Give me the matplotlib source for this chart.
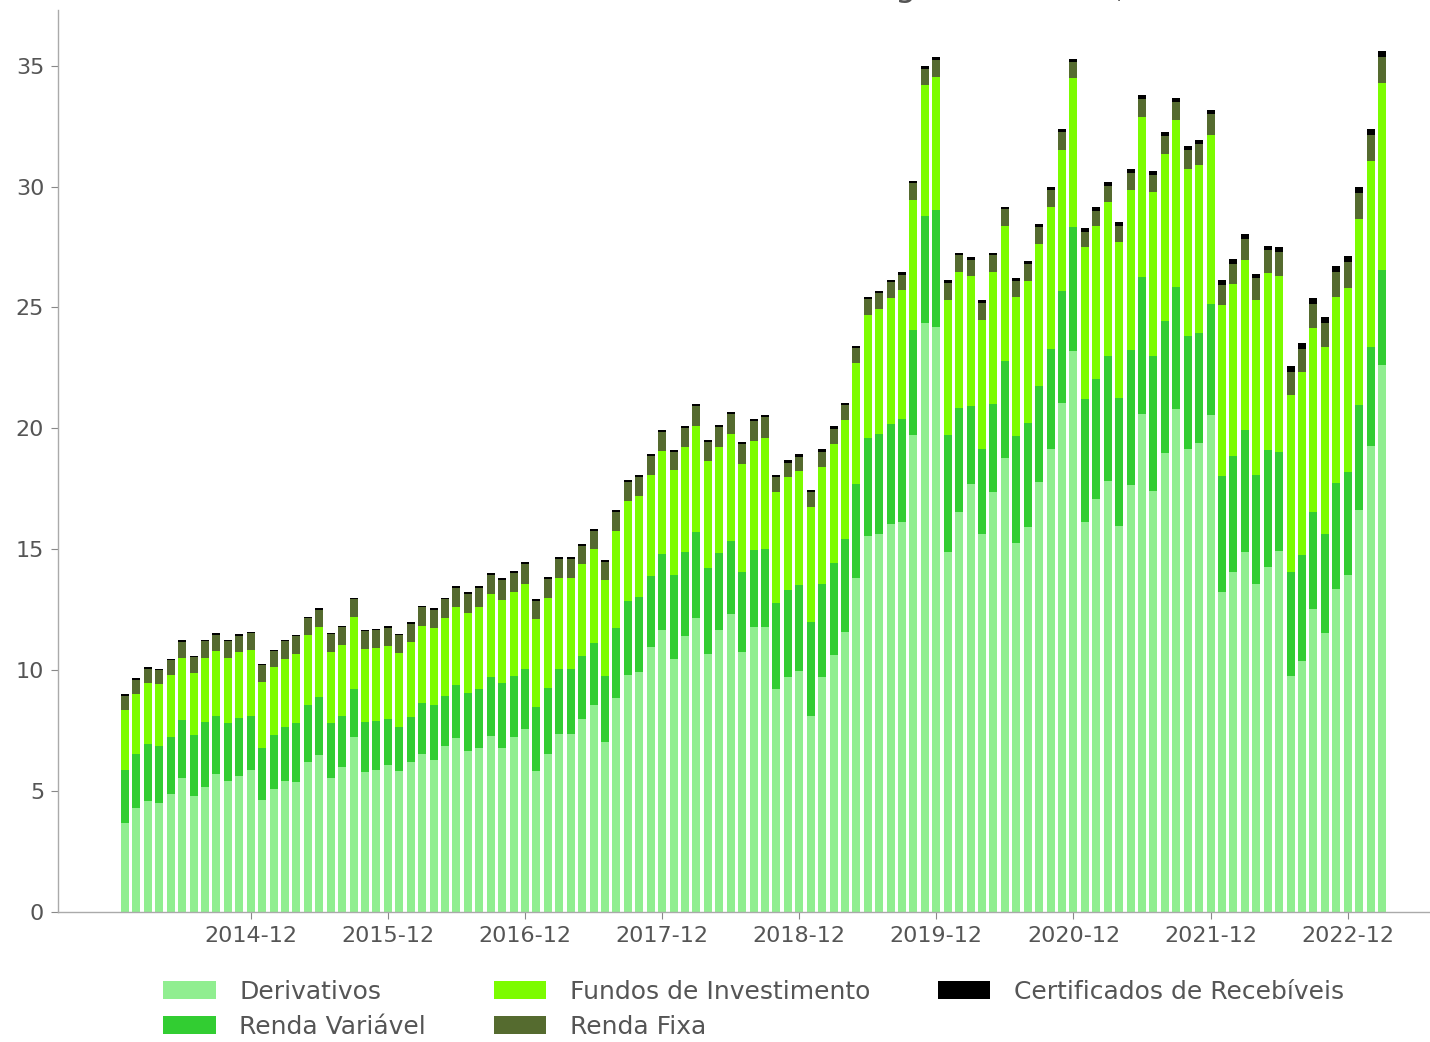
import matplotlib.pyplot as plt
import numpy as np
import pandas as pd

plt.rcParams["font.family"] = "DejaVu Sans"

# monthly categories, 2014-01 .. 2023-03
months = [str(p) for p in pd.period_range("2014-01", "2023-03", freq="M")]

derivativos = [3.66, 4.31, 4.60, 4.52, 4.88, 5.52, 4.79, 5.18, 5.69, 5.40, 5.61, 5.88,
               4.64, 5.07, 5.40, 5.37, 6.21, 6.50, 5.52, 5.98, 7.22, 5.80, 5.87, 6.07,
               5.83, 6.21, 6.53, 6.28, 6.86, 7.19, 6.64, 6.79, 7.29, 6.80, 7.22, 7.56,
               5.84, 6.53, 7.38, 7.38, 8.00, 8.55, 7.04, 8.83, 9.79, 9.93, 10.94, 11.68,
               10.47, 11.40, 12.15, 10.66, 11.64, 12.31, 10.77, 11.79, 11.79, 9.21, 9.70, 9.97,
               8.09, 9.70, 10.63, 11.58, 13.82, 15.55, 15.64, 16.03, 16.14, 19.72, 24.37, 24.19,
               14.89, 16.54, 17.69, 15.65, 17.37, 18.77, 15.26, 15.92, 17.78, 19.13, 21.05, 23.19,
               16.13, 17.07, 17.82, 15.95, 17.64, 20.60, 17.42, 18.99, 20.80, 19.13, 19.40, 20.56,
               13.24, 14.05, 14.90, 13.55, 14.26, 14.93, 9.77, 10.38, 12.53, 11.54, 13.36, 13.94,
               16.63, 19.28, 22.62]

renda_variavel = [2.21, 2.21, 2.33, 2.35, 2.35, 2.41, 2.51, 2.67, 2.42, 2.42, 2.42, 2.24,
                  2.12, 2.26, 2.26, 2.44, 2.34, 2.38, 2.28, 2.12, 2.02, 2.06, 2.04, 1.92,
                  1.80, 1.86, 2.12, 2.27, 2.08, 2.18, 2.40, 2.42, 2.43, 2.66, 2.55, 2.47,
                  2.62, 2.75, 2.65, 2.65, 2.58, 2.59, 2.73, 2.93, 3.07, 3.10, 2.97, 3.14,
                  3.46, 3.49, 3.57, 3.57, 3.21, 3.03, 3.29, 3.17, 3.24, 3.55, 3.63, 3.56,
                  3.90, 3.88, 3.81, 3.85, 3.88, 4.03, 4.12, 4.14, 4.24, 4.33, 4.40, 4.83,
                  4.83, 4.31, 3.22, 3.50, 3.65, 4.01, 4.41, 4.32, 3.98, 4.16, 4.61, 5.13,
                  5.10, 4.98, 5.17, 5.32, 5.59, 5.66, 5.58, 5.46, 5.04, 4.68, 4.53, 4.57,
                  4.79, 4.81, 5.02, 4.51, 4.85, 4.09, 4.28, 4.38, 4.00, 4.08, 4.38, 4.25,
                  4.33, 4.08, 3.93]

fundos = [2.48, 2.49, 2.52, 2.54, 2.56, 2.59, 2.60, 2.67, 2.69, 2.70, 2.71, 2.71,
          2.76, 2.78, 2.82, 2.86, 2.90, 2.91, 2.94, 2.95, 2.96, 3.01, 3.00, 3.01,
          3.06, 3.10, 3.17, 3.19, 3.22, 3.23, 3.32, 3.39, 3.41, 3.45, 3.45, 3.55,
          3.65, 3.70, 3.78, 3.79, 3.83, 3.85, 3.96, 4.01, 4.15, 4.17, 4.17, 4.24,
          4.33, 4.34, 4.38, 4.42, 4.38, 4.44, 4.47, 4.50, 4.56, 4.61, 4.66, 4.71,
          4.76, 4.83, 4.92, 4.92, 5.01, 5.11, 5.17, 5.22, 5.33, 5.38, 5.42, 5.51,
          5.58, 5.62, 5.37, 5.35, 5.44, 5.57, 5.76, 5.85, 5.87, 5.86, 5.83, 6.16,
          6.26, 6.31, 6.38, 6.44, 6.63, 6.63, 6.78, 6.89, 6.90, 6.92, 6.98, 7.02,
          7.08, 7.10, 7.05, 7.26, 7.32, 7.29, 7.34, 7.56, 7.62, 7.74, 7.69, 7.62,
          7.69, 7.69, 7.72]

renda_fixa = [0.60, 0.60, 0.61, 0.60, 0.64, 0.66, 0.65, 0.67, 0.67, 0.67, 0.69, 0.70,
              0.68, 0.69, 0.71, 0.73, 0.70, 0.71, 0.74, 0.72, 0.73, 0.75, 0.74, 0.76,
              0.76, 0.75, 0.78, 0.76, 0.78, 0.81, 0.80, 0.81, 0.81, 0.83, 0.81, 0.82,
              0.77, 0.80, 0.79, 0.78, 0.74, 0.78, 0.74, 0.76, 0.76, 0.78, 0.79, 0.80,
              0.78, 0.79, 0.81, 0.80, 0.83, 0.81, 0.82, 0.83, 0.87, 0.62, 0.59, 0.58,
              0.60, 0.62, 0.62, 0.61, 0.61, 0.66, 0.67, 0.65, 0.65, 0.71, 0.69, 0.71,
              0.72, 0.68, 0.68, 0.70, 0.69, 0.70, 0.68, 0.70, 0.71, 0.70, 0.76, 0.68,
              0.62, 0.64, 0.65, 0.65, 0.70, 0.74, 0.71, 0.74, 0.74, 0.79, 0.83, 0.84,
              0.83, 0.85, 0.85, 0.88, 0.93, 0.97, 0.96, 0.96, 1.00, 1.00, 1.03, 1.06,
              1.08, 1.08, 1.08]

certificados = [0.05] * 18 + [0.06] * 18 + [0.08] * 21 + [0.10] * 16 \
    + [0.12] * 11 + [0.17] * 12 + [0.20] * 6 + [0.24] * 9

series = [
    ("Derivativos", derivativos, "#90EE90"),
    ("Renda Variável", renda_variavel, "#32CD32"),
    ("Fundos de Investimento", fundos, "#7CFC00"),
    ("Renda Fixa", renda_fixa, "#556B2F"),
    ("Certificados de Recebíveis", certificados, "#000000"),
]

fig = plt.figure(figsize=(14.3, 10.42), dpi=100)
ax = fig.add_axes([0.0406, 0.1248, 0.9594, 0.8656])

x = np.arange(len(months))
bottom = np.zeros(len(months))
for name, vals, color in series:
    ax.bar(x, vals, 0.7, bottom=bottom, color=color, label=name)
    bottom += np.array(vals)

dec = [i for i, m in enumerate(months) if m.endswith("-12")]
ax.set_xticks(dec)
ax.set_xticklabels([months[i] for i in dec])
ax.set_yticks(range(0, 40, 5))
ax.set_xlim(-5.86, 114.2)
ax.set_ylim(0, 37.3)

for s in ["top", "right"]:
    ax.spines[s].set_visible(False)
for s in ["left", "bottom"]:
    ax.spines[s].set_color("#aaaaaa")
    ax.spines[s].set_linewidth(1)
ax.tick_params(labelsize=16, labelcolor="#555555", color="#888888", length=5, pad=5)

# title sits above the canvas in the original, only descenders show
fig.text(0.8287, 1.0 + 4 / 1042, "Volume Alocado em Margem Total (R$ bi)",
         ha="right", va="baseline", fontsize=24.5, color="#555555")

fig.legend(loc="upper center", bbox_to_anchor=(0.527, 1 - 980 / 1042), ncol=3,
           frameon=False, fontsize=18, labelcolor="#555555", borderpad=0,
           borderaxespad=0, handlelength=2.1, handleheight=0.72,
           handletextpad=0.95, columnspacing=2.7, labelspacing=0.44)

plt.savefig("out.png", dpi=100)
